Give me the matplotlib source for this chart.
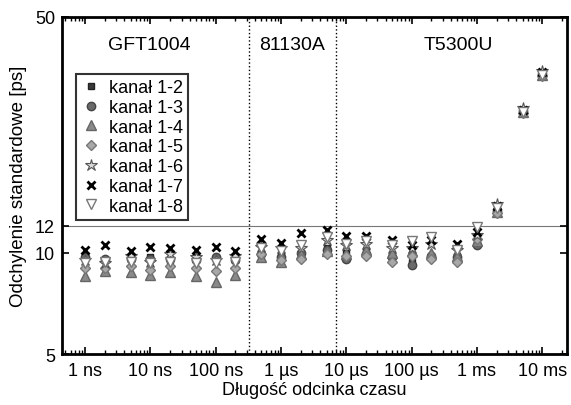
import numpy as np
import matplotlib
matplotlib.use('Agg')
import matplotlib.pyplot as plt

plt.rcParams['font.family'] = ['Liberation Sans', 'DejaVu Sans']

# time intervals [s]
t_gft = [1e-9, 2e-9, 5e-9, 10e-9, 20e-9, 50e-9, 100e-9, 200e-9]
t_811 = [0.5e-6, 1e-6, 2e-6, 5e-6]
t_t53 = [10e-6, 20e-6, 50e-6, 100e-6, 200e-6, 500e-6, 1e-3, 2e-3, 5e-3, 10e-3]

# standard deviation [ps] per channel, GFT1004 | 81130A | T5300U
k12 = [9.8, 9.5, 9.6, 9.7, 9.5, 9.7, 9.6, 9.5] + [10.0, 9.8, 10.0, 10.3] + \
      [10.0, 10.1, 9.8, 9.4, 9.8, 9.6, 10.6, 13.4, 26.4, 34.0]
k13 = [9.7, 9.6, 9.6, 9.6, 9.6, 9.5, 9.7, 9.5] + [9.9, 9.7, 10.0, 10.2] + \
      [9.6, 9.9, 9.7, 9.2, 9.8, 9.7, 10.5, 13.3, 26.3, 33.9]
k14 = [8.5, 8.8, 8.75, 8.6, 8.75, 8.5, 8.2, 8.6] + [9.7, 9.4, 9.9, 10.1] + \
      [9.9, 10.2, 10.0, 10.1, 10.0, 9.8, 10.8, 13.2, 26.1, 33.7]
k15 = [9.0, 9.0, 9.1, 8.9, 9.1, 9.0, 8.8, 9.0] + [9.9, 9.5, 9.6, 9.9] + \
      [9.8, 9.8, 9.4, 9.8, 9.6, 9.4, 11.0, 13.1, 25.9, 33.3]
k16 = [9.5, 9.3, 9.8, 9.4, 9.9, 9.7, 9.5, 9.8] + [10.4, 10.3, 10.3, 10.9] + \
      [10.5, 10.6, 10.3, 10.3, 10.6, 10.2, 11.3, 13.9, 26.8, 34.5]
k17 = [10.2, 10.5, 10.1, 10.4, 10.3, 10.2, 10.4, 10.1] + [11.0, 10.7, 11.4, 11.7] + \
      [11.2, 11.2, 10.9, 10.5, 10.9, 10.6, 11.5, 13.7, 26.5, 34.3]
k18 = [9.3, 9.4, 9.4, 9.3, 9.4, 9.3, 9.3, 9.4] + [10.3, 10.1, 10.5, 11.1] + \
      [10.6, 10.8, 10.5, 10.8, 11.1, 10.2, 11.9, 13.6, 26.2, 33.6]

labels = ['kanał 1-2', 'kanał 1-3', 'kanał 1-4', 'kanał 1-5',
          'kanał 1-6', 'kanał 1-7', 'kanał 1-8']
xticks = [1e-9, 1e-8, 1e-7, 1e-6, 1e-5, 1e-4, 1e-3, 1e-2]
xticklabels = ['1 ns', '10 ns', '100 ns', '1 µs', '10 µs', '100 µs', '1 ms', '10 ms']
yticks = [5, 10, 12, 50]
generators = ['GFT1004', '81130A', 'T5300U']

t = t_gft + t_811 + t_t53
series = [k12, k13, k14, k15, k16, k17, k18]
styles = [
    dict(marker='s', mfc='#3a3a3a', mec='#222222', ms=5),
    dict(marker='o', mfc='#6a6a6a', mec='#444444', ms=6),
    dict(marker='^', mfc='#8a8a8a', mec='#666666', ms=7),
    dict(marker='D', mfc='#a8a8a8', mec='#777777', ms=5),
    dict(marker='*', mfc='#d8d8d8', mec='#555555', ms=9, mew=0.8),
    dict(marker='x', mfc='none', mec='black', ms=6, mew=2),
    dict(marker='v', mfc='white', mec='#777777', ms=7),
]

fig = plt.figure(figsize=(5.71, 4.06), dpi=100)
ax = fig.add_axes([0.1086, 0.1256, 0.8844, 0.8301])

for y, lab, st in zip(series, labels, styles):
    ax.plot(t, y, linestyle='none', label=lab, **st)

ax.set_xscale('log')
ax.set_yscale('log')
ax.set_xlim(0.444e-9, 24e-3)
ax.set_ylim(5, 50)

ax.axhline(12, color='#777777', lw=0.8, zorder=0)
ax.axvline(0.32e-6, color='black', lw=1, ls=':', zorder=0)
ax.axvline(7e-6, color='black', lw=1, ls=':', zorder=0)

ax.text(9.5e-9, 41.5, generators[0], ha='center', va='center', fontsize=14)
ax.text(1.5e-6, 41.5, generators[1], ha='center', va='center', fontsize=14)
ax.text(0.52e-3, 41.5, generators[2], ha='center', va='center', fontsize=14)

ax.set_xticks(xticks)
ax.set_xticklabels(xticklabels)
ax.set_yticks(yticks)
ax.set_yticklabels([str(v) for v in yticks])
ax.yaxis.set_minor_locator(matplotlib.ticker.NullLocator())
ax.tick_params(which='both', direction='in', top=True, right=True, labelsize=13)
ax.tick_params(which='major', length=5, width=1.2)
ax.tick_params(which='minor', length=3, width=1)
ax.tick_params(axis='x', pad=6)
ax.tick_params(axis='y', pad=5)
for s in ax.spines.values():
    s.set_linewidth(2)

ax.set_xlabel('Długość odcinka czasu', fontsize=13, labelpad=1)
ax.set_ylabel('Odchylenie standardowe [ps]', fontsize=13.5, labelpad=6)

leg = ax.legend(loc='upper left', bbox_to_anchor=(0.028, 0.831), fontsize=13,
                frameon=True, fancybox=False, edgecolor='black',
                handletextpad=0.4, borderpad=0.3, labelspacing=0.15,
                handlelength=1.1, borderaxespad=0)
leg.get_frame().set_linewidth(1.5)

fig.savefig('out.png', dpi=100)
